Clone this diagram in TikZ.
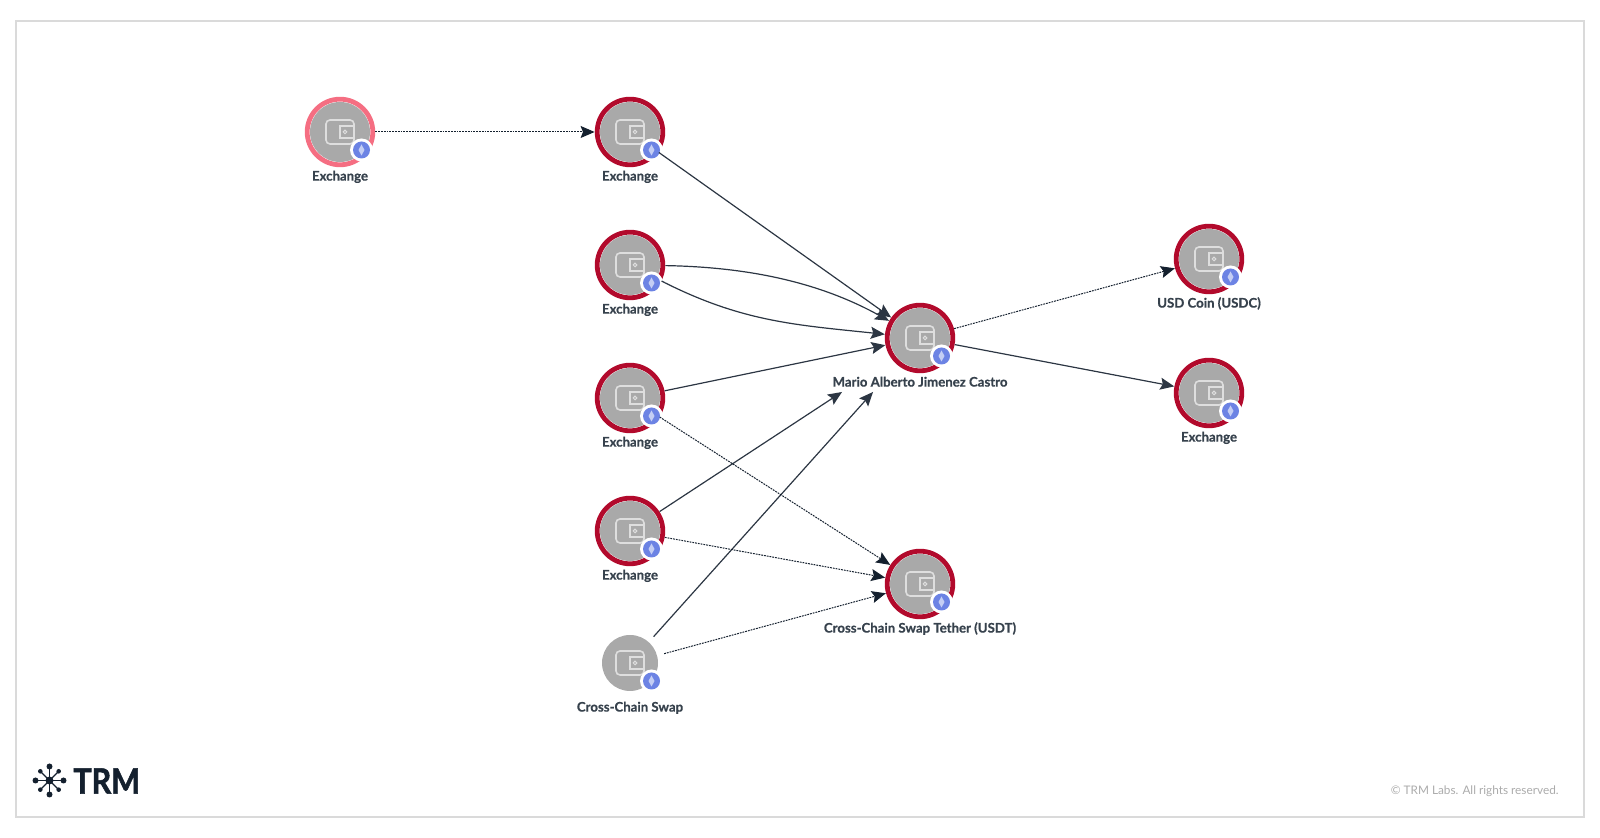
\documentclass[tikz,border=0pt]{standalone}
\usepackage{fontspec}
\setmainfont[BoldFeatures={FakeBold=.6}]{Lato}
\newfontfamily\logofont[BoldFeatures={FakeBold=1.6,FakeStretch=.87}]{Lato}
\usetikzlibrary{arrows.meta,positioning}
\definecolor{ringdark}{HTML}{B20A2C}
\definecolor{ringlight}{HTML}{F56E82}
\definecolor{walletgrey}{HTML}{A9A9A9}
\definecolor{walleticon}{HTML}{DEDEDE}
\definecolor{badgeblue}{HTML}{6C83E4}
\definecolor{inkdark}{HTML}{14202E}
\definecolor{framegrey}{HTML}{DADADA}
\definecolor{notegrey}{HTML}{ABABAB}
\tikzset{
  wallet/.style={circle,minimum size=35pt,inner sep=0pt},
  walletlabel/.style={font=\fontsize{6.6}{8}\selectfont\bfseries,text=inkdark!85,inner sep=0pt,text height=1.5ex,text depth=.3ex},
  solidedge/.style={draw=inkdark!90,line width=.6pt,-{Stealth[length=7pt,width=6pt,inset=1.2pt]}},
  dottededge/.style={draw=inkdark,line width=.5pt,dash pattern=on .9pt off .5pt,-{Stealth[length=7pt,width=6pt,inset=1.2pt]}}
}
\begin{document}
\begin{tikzpicture}[x=.5pt,y=.5pt]
            \useasboundingbox (0,0) rectangle (1600,838);
            % Frame
            \draw[framegrey,line width=1pt] (16,21) rectangle (1584,817);
            % Wallets
            \foreach \name/\px/\py/\ringcol/\greyr/\lab in {
              exa/340/706/ringlight/30/Exchange,
              exb/630/706/ringdark/30/Exchange,
              exc/630/573/ringdark/30/Exchange,
              exd/630/440/ringdark/30/Exchange,
              exe/630/307/ringdark/30/Exchange,
              swap/630/175/white/28/Cross-Chain Swap,
              mario/920/500/ringdark/30/Mario Alberto Jimenez Castro,
              usdt/920/254/ringdark/30/Cross-Chain Swap Tether (USDT),
              usdc/1209/579/ringdark/30/USD Coin (USDC),
              exf/1209/445/ringdark/30/Exchange}{
              \node[wallet] (\name) at (\px,\py) {};
              \node[walletlabel,below=-1.2pt of \name] (\name label) {\lab};
              \begin{scope}[shift={(\px,\py)}]
                \draw[\ringcol,line width=2.4pt] (0,0) circle (32.8);
                \fill[walletgrey] (0,0) circle (\greyr);
                \draw[walleticon,line width=.8pt,rounded corners=2pt] (-14,-12) rectangle (14,12);
                \draw[walleticon,line width=.8pt,fill=walletgrey] (0,-6) rectangle (14,6);
                \draw[walleticon,line width=.5pt] (5,0) circle (1.8);
                \fill[white] (21.5,-18) circle (11.5);
                \fill[badgeblue] (21.5,-18) circle (8.5);
                \fill[white!60!badgeblue] (21.5,-12.5) -- (24.5,-18) -- (21.5,-23.5) -- (18.5,-18) -- cycle;
              \end{scope}
            }
            % Free arrow ends
            \coordinate (enda) at (842,446);
            \coordinate (endb) at (873,446);
            % Into the first wallet row
            \draw[dottededge] (exa) -- (exb);
            % Into Mario
            \draw[solidedge] (exb) -- (mario);
            \draw[solidedge] (exc) to[out=-1,in=151,looseness=.9] (mario);
            \draw[solidedge] (exc) to[out=-27,in=174] (mario);
            \draw[solidedge] (exd) -- (mario);
            \draw[solidedge] (exe) -- (enda);
            \draw[solidedge] (swap) -- (endb);
            % Into USDT
            \draw[dottededge] (exd) -- (usdt);
            \draw[dottededge] (exe) -- (usdt);
            \draw[dottededge] (swap) -- (usdt);
            % Out of Mario
            \draw[dottededge] (mario) -- (usdc);
            \draw[solidedge] (mario) -- (exf);
            % Logo
            \begin{scope}[shift={(49.5,57.5)}]
              \foreach \ang in {0,90,180,270}{
                \draw[inkdark,line width=.6pt] (0,0) -- (\ang:14);
                \fill[inkdark] (\ang:14) circle (3);
              }
              \foreach \ang in {45,135,225,315}{
                \draw[inkdark,line width=.6pt] (0,0) -- (\ang:13);
                \fill[inkdark] (\ang:13) circle (2.3);
              }
              \fill[inkdark] (0,0) circle (4);
            \end{scope}
            \node[anchor=west,inner sep=0pt,font=\logofont\fontsize{17.5}{20}\selectfont\bfseries,text=inkdark] (logotext) at (73,57) {TRM};
            % Copyright
            \node[anchor=east,inner sep=0pt,font=\fontsize{5.9}{8}\selectfont,text=notegrey] (rights) at (1559,47) {© TRM Labs. All rights reserved.};
            \end{tikzpicture}
\end{document}
